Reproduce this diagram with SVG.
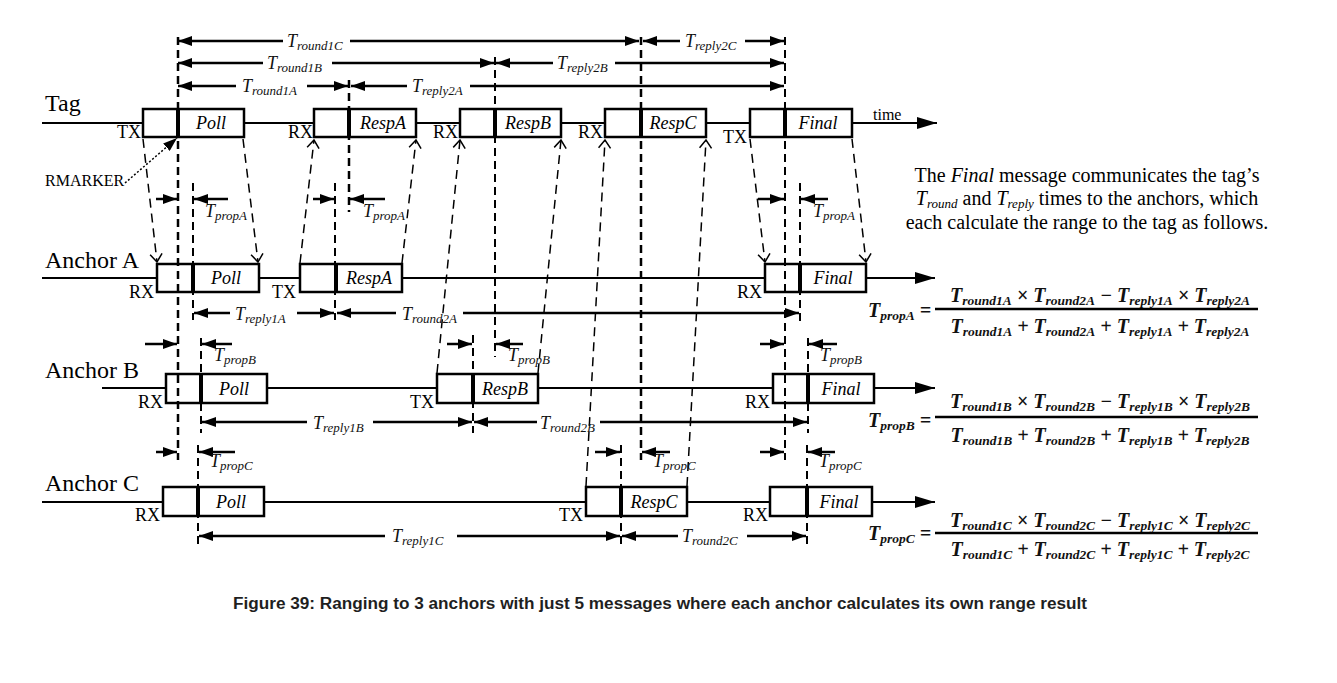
<svg xmlns="http://www.w3.org/2000/svg" width="1337" height="683" viewBox="0 0 1337 683">
<defs>
<style>
.ll{stroke:#000;stroke-width:2;fill:none}
.box{fill:#fff;stroke:#000;stroke-width:2.5}
.dv{stroke:#000;stroke-width:4}
.lbl{font-family:"Liberation Serif",serif;font-size:24px;fill:#000}
.rx{font-family:"Liberation Serif",serif;font-size:18px;text-anchor:end;fill:#000}
.msg{font-family:"Liberation Serif",serif;font-style:italic;font-size:18px;text-anchor:middle;fill:#000}
.vd{stroke:#000;stroke-width:2;stroke-dasharray:8 5;fill:none}
.vdt{stroke:#000;stroke-width:2.5;stroke-dasharray:8 5;fill:none}
.dg{stroke:#000;stroke-width:1.5;stroke-dasharray:9 6;fill:none;marker-end:url(#op)}
.ta{stroke:#000;stroke-width:2.5;fill:none;marker-end:url(#fa)}
.t{font-family:"Liberation Serif",serif;font-style:italic;font-size:18px;fill:#111}
.s{font-size:13px}
.fm{font-family:"Liberation Serif",serif;font-style:italic;font-weight:bold;font-size:20px;fill:#111}
.fs{font-size:13.5px}
.bar{stroke:#000;stroke-width:2.5}
.para{font-family:"Liberation Serif",serif;font-size:20px;text-anchor:middle;fill:#000}
</style>
<marker id="fa" markerUnits="userSpaceOnUse" markerWidth="14" markerHeight="10" refX="14" refY="5" orient="auto"><path d="M0,0 L14,5 L0,10 z" fill="#000"/></marker>
<marker id="op" markerUnits="userSpaceOnUse" markerWidth="12" markerHeight="14" refX="10" refY="7" orient="auto" overflow="visible"><path d="M2,1 L10,7 L2,13" fill="none" stroke="#000" stroke-width="1.5"/></marker>
<marker id="big" markerUnits="userSpaceOnUse" markerWidth="20" markerHeight="12" refX="20" refY="6" orient="auto"><path d="M0,0 L20,6 L0,12 z" fill="#000"/></marker>
</defs>
<rect width="1337" height="683" fill="#fff"/>

<g id="tag">
<line class="ll" x1="42" y1="123" x2="937" y2="123" marker-end="url(#big)"/>
<text class="lbl" x="45" y="111">Tag</text>
<text x="873" y="120" font-family="Liberation Serif, serif" font-size="16">time</text>
<rect class="box" x="143" y="109" width="101" height="28"/><line class="dv" x1="178" y1="109" x2="178" y2="137"/><text class="msg" x="211" y="129">Poll</text>
<rect class="box" x="314" y="109" width="102" height="28"/><line class="dv" x1="349" y1="109" x2="349" y2="137"/><text class="msg" x="383" y="129">RespA</text>
<rect class="box" x="460" y="109" width="101" height="28"/><line class="dv" x1="495" y1="109" x2="495" y2="137"/><text class="msg" x="528" y="129">RespB</text>
<rect class="box" x="605" y="109" width="101" height="28"/><line class="dv" x1="641" y1="109" x2="641" y2="137"/><text class="msg" x="673" y="129">RespC</text>
<rect class="box" x="750" y="109" width="102" height="28"/><line class="dv" x1="785" y1="109" x2="785" y2="137"/><text class="msg" x="818" y="129">Final</text>
<text class="rx" x="141" y="138">TX</text>
<text class="rx" x="313" y="138">RX</text>
<text class="rx" x="458" y="138">RX</text>
<text class="rx" x="603" y="138">RX</text>
<text class="rx" x="747" y="143">TX</text>
<text x="45" y="186" font-family="Liberation Serif, serif" font-size="16">RMARKER</text>
</g>

<g id="anchorA">
<line class="ll" x1="42" y1="278" x2="935" y2="278" marker-end="url(#big)"/>
<text class="lbl" x="45" y="268">Anchor A</text>
<rect class="box" x="157" y="264" width="102" height="28"/><line class="dv" x1="193" y1="264" x2="193" y2="292"/><text class="msg" x="226" y="284">Poll</text>
<rect class="box" x="300" y="264" width="102" height="28"/><line class="dv" x1="336" y1="264" x2="336" y2="292"/><text class="msg" x="369" y="284">RespA</text>
<rect class="box" x="765" y="264" width="101" height="28"/><line class="dv" x1="800" y1="264" x2="800" y2="292"/><text class="msg" x="833" y="284">Final</text>
<text class="rx" x="154" y="298">RX</text>
<text class="rx" x="296" y="298">TX</text>
<text class="rx" x="762" y="298">RX</text>
</g>

<g id="anchorB">
<line class="ll" x1="102" y1="388" x2="935" y2="388" stroke-width="3" marker-end="url(#big)"/>
<text class="lbl" x="45" y="378">Anchor B</text>
<rect class="box" x="166" y="374" width="101" height="29"/><line class="dv" x1="201" y1="374" x2="201" y2="403"/><text class="msg" x="234" y="395">Poll</text>
<rect class="box" x="437" y="374" width="101" height="29"/><line class="dv" x1="473" y1="374" x2="473" y2="403"/><text class="msg" x="505" y="395">RespB</text>
<rect class="box" x="773" y="374" width="101" height="29"/><line class="dv" x1="808" y1="374" x2="808" y2="403"/><text class="msg" x="841" y="395">Final</text>
<text class="rx" x="163" y="408">RX</text>
<text class="rx" x="434" y="408">TX</text>
<text class="rx" x="770" y="408">RX</text>
</g>

<g id="anchorC">
<line class="ll" x1="42" y1="502" x2="935" y2="502" marker-end="url(#big)"/>
<text class="lbl" x="45" y="491">Anchor C</text>
<rect class="box" x="163" y="487" width="101" height="29"/><line class="dv" x1="198" y1="487" x2="198" y2="516"/><text class="msg" x="231" y="508">Poll</text>
<rect class="box" x="586" y="487" width="101" height="29"/><line class="dv" x1="621" y1="487" x2="621" y2="516"/><text class="msg" x="654" y="508">RespC</text>
<rect class="box" x="770" y="487" width="102" height="29"/><line class="dv" x1="807" y1="487" x2="807" y2="516"/><text class="msg" x="839" y="508">Final</text>
<text class="rx" x="160" y="521">RX</text>
<text class="rx" x="583" y="521">TX</text>
<text class="rx" x="768" y="521">RX</text>
</g>

<g id="connectors">
<line class="vdt" x1="178" y1="37" x2="178" y2="460"/>
<line class="vdt" x1="641" y1="37" x2="641" y2="460"/>
<line class="vd" x1="785" y1="37" x2="785" y2="460"/>
<line class="vd" x1="495" y1="57" x2="495" y2="357"/>
<line class="vdt" x1="349" y1="80" x2="349" y2="212"/>
<line class="vd" x1="193" y1="183" x2="193" y2="320"/>
<line class="vd" x1="335" y1="183" x2="335" y2="320"/>
<line class="vd" x1="800" y1="183" x2="800" y2="322"/>
<line class="vd" x1="201" y1="338" x2="201" y2="433"/>
<line class="vd" x1="473" y1="335" x2="473" y2="433"/>
<line class="vd" x1="808" y1="338" x2="808" y2="433"/>
<line class="vd" x1="198" y1="445" x2="198" y2="548"/>
<line class="vd" x1="621" y1="445" x2="621" y2="548"/>
<line class="vd" x1="807" y1="445" x2="807" y2="548"/>

<line class="dg" x1="143" y1="139" x2="157" y2="262"/>
<line class="dg" x1="243" y1="139" x2="258" y2="262"/>
<line class="dg" x1="300" y1="263" x2="314" y2="140"/>
<line class="dg" x1="402" y1="263" x2="416" y2="140"/>
<line class="dg" x1="437" y1="373" x2="460" y2="140"/>
<line class="dg" x1="538" y1="373" x2="561" y2="140"/>
<line class="dg" x1="586" y1="486" x2="605" y2="140"/>
<line class="dg" x1="687" y1="486" x2="706" y2="140"/>
<line class="dg" x1="750" y1="139" x2="765" y2="262"/>
<line class="dg" x1="852" y1="139" x2="866" y2="262"/>

<line x1="125" y1="183" x2="177" y2="138" stroke="#000" stroke-width="1.5" stroke-dasharray="2 2" marker-end="url(#fa)"/>

<line class="ta" x1="283" y1="41" x2="178" y2="41"/>
<line class="ta" x1="350" y1="41" x2="639" y2="41"/>
<text class="t" x="287" y="47">T<tspan class="s" dy="3">round1C</tspan></text>
<line class="ta" x1="680" y1="41" x2="643" y2="41"/>
<line class="ta" x1="745" y1="41" x2="784" y2="41"/>
<text class="t" x="685" y="47">T<tspan class="s" dy="3">reply2C</tspan></text>
<line class="ta" x1="263" y1="63" x2="178" y2="63"/>
<line class="ta" x1="332" y1="63" x2="494" y2="63"/>
<text class="t" x="267" y="69">T<tspan class="s" dy="3">round1B</tspan></text>
<line class="ta" x1="553" y1="63" x2="496" y2="63"/>
<line class="ta" x1="615" y1="63" x2="784" y2="63"/>
<text class="t" x="557" y="69">T<tspan class="s" dy="3">reply2B</tspan></text>
<line class="ta" x1="236" y1="86" x2="178" y2="86"/>
<line class="ta" x1="307" y1="86" x2="348" y2="86"/>
<text class="t" x="242" y="92">T<tspan class="s" dy="3">round1A</tspan></text>
<line class="ta" x1="407" y1="86" x2="351" y2="86"/>
<line class="ta" x1="470" y1="86" x2="784" y2="86"/>
<text class="t" x="412" y="92">T<tspan class="s" dy="3">reply2A</tspan></text>

<line class="ta" x1="156" y1="199" x2="177" y2="199"/>
<line class="ta" x1="228" y1="199" x2="194" y2="199"/>
<text class="t" x="205" y="217">T<tspan class="s" dy="3">propA</tspan></text>
<line class="ta" x1="313" y1="199" x2="334" y2="199"/>
<line class="ta" x1="385" y1="199" x2="350" y2="199"/>
<text class="t" x="363" y="217">T<tspan class="s" dy="3">propA</tspan></text>
<line class="ta" x1="758" y1="199" x2="784" y2="199"/>
<line class="ta" x1="828" y1="199" x2="801" y2="199"/>
<text class="t" x="813" y="217">T<tspan class="s" dy="3">propA</tspan></text>

<line class="ta" x1="145" y1="344" x2="177" y2="344"/>
<line class="ta" x1="232" y1="344" x2="202" y2="344"/>
<text class="t" x="214" y="361">T<tspan class="s" dy="3">propB</tspan></text>
<line class="ta" x1="447" y1="344" x2="472" y2="344"/>
<line class="ta" x1="523" y1="344" x2="496" y2="344"/>
<text class="t" x="508" y="361">T<tspan class="s" dy="3">propB</tspan></text>
<line class="ta" x1="760" y1="344" x2="784" y2="344"/>
<line class="ta" x1="837" y1="344" x2="809" y2="344"/>
<text class="t" x="820" y="361">T<tspan class="s" dy="3">propB</tspan></text>

<line class="ta" x1="156" y1="452" x2="177" y2="452"/>
<line class="ta" x1="235" y1="452" x2="199" y2="452"/>
<text class="t" x="210" y="467">T<tspan class="s" dy="3">propC</tspan></text>
<line class="ta" x1="595" y1="452" x2="620" y2="452"/>
<line class="ta" x1="670" y1="452" x2="642" y2="452"/>
<text class="t" x="653" y="467">T<tspan class="s" dy="3">propC</tspan></text>
<line class="ta" x1="760" y1="452" x2="784" y2="452"/>
<line class="ta" x1="835" y1="452" x2="808" y2="452"/>
<text class="t" x="819" y="467">T<tspan class="s" dy="3">propC</tspan></text>

<line class="ta" x1="230" y1="313" x2="194" y2="313"/>
<line class="ta" x1="297" y1="313" x2="334" y2="313"/>
<text class="t" x="235" y="320">T<tspan class="s" dy="3">reply1A</tspan></text>
<line class="ta" x1="396" y1="313" x2="337" y2="313"/>
<line class="ta" x1="463" y1="313" x2="799" y2="313"/>
<text class="t" x="402" y="320">T<tspan class="s" dy="3">round2A</tspan></text>
<line class="ta" x1="307" y1="422" x2="202" y2="422"/>
<line class="ta" x1="373" y1="422" x2="472" y2="422"/>
<text class="t" x="313" y="429">T<tspan class="s" dy="3">reply1B</tspan></text>
<line class="ta" x1="537" y1="422" x2="474" y2="422"/>
<line class="ta" x1="600" y1="422" x2="807" y2="422"/>
<text class="t" x="540" y="429">T<tspan class="s" dy="3">round2B</tspan></text>
<line class="ta" x1="385" y1="536" x2="199" y2="536"/>
<line class="ta" x1="457" y1="536" x2="620" y2="536"/>
<text class="t" x="392" y="542">T<tspan class="s" dy="3">reply1C</tspan></text>
<line class="ta" x1="678" y1="536" x2="622" y2="536"/>
<line class="ta" x1="747" y1="536" x2="806" y2="536"/>
<text class="t" x="682" y="542">T<tspan class="s" dy="3">round2C</tspan></text>
</g>

<g id="note">
<text class="para" x="1087" y="182">The <tspan font-style="italic">Final</tspan> message communicates the tag’s</text>
<text class="para" x="1087" y="205"><tspan font-style="italic">T</tspan><tspan font-style="italic" font-size="13" dy="3">round</tspan><tspan dy="-3"> and </tspan><tspan font-style="italic">T</tspan><tspan font-style="italic" font-size="13" dy="3">reply</tspan><tspan dy="-3"> times to the anchors, which</tspan></text>
<text class="para" x="1087" y="229">each calculate the range to the tag as follows.</text>
</g>

<g id="formulaA">
<text class="fm" x="868" y="317">T<tspan class="fs" dy="3">propA</tspan><tspan dy="-3"> =</tspan></text>
<text class="fm" x="1100" y="302" text-anchor="middle">T<tspan class="fs" dy="3">round1A</tspan><tspan dy="-3"> × T</tspan><tspan class="fs" dy="3">round2A</tspan><tspan dy="-3"> − T</tspan><tspan class="fs" dy="3">reply1A</tspan><tspan dy="-3"> × T</tspan><tspan class="fs" dy="3">reply2A</tspan></text>
<line class="bar" x1="935" y1="309" x2="1258" y2="309"/>
<text class="fm" x="1100" y="333" text-anchor="middle">T<tspan class="fs" dy="3">round1A</tspan><tspan dy="-3"> + T</tspan><tspan class="fs" dy="3">round2A</tspan><tspan dy="-3"> + T</tspan><tspan class="fs" dy="3">reply1A</tspan><tspan dy="-3"> + T</tspan><tspan class="fs" dy="3">reply2A</tspan></text>
</g>

<g id="formulaB">
<text class="fm" x="868" y="427">T<tspan class="fs" dy="3">propB</tspan><tspan dy="-3"> =</tspan></text>
<text class="fm" x="1100" y="408" text-anchor="middle">T<tspan class="fs" dy="3">round1B</tspan><tspan dy="-3"> × T</tspan><tspan class="fs" dy="3">round2B</tspan><tspan dy="-3"> − T</tspan><tspan class="fs" dy="3">reply1B</tspan><tspan dy="-3"> × T</tspan><tspan class="fs" dy="3">reply2B</tspan></text>
<line class="bar" x1="935" y1="417" x2="1258" y2="417"/>
<text class="fm" x="1100" y="442" text-anchor="middle">T<tspan class="fs" dy="3">round1B</tspan><tspan dy="-3"> + T</tspan><tspan class="fs" dy="3">round2B</tspan><tspan dy="-3"> + T</tspan><tspan class="fs" dy="3">reply1B</tspan><tspan dy="-3"> + T</tspan><tspan class="fs" dy="3">reply2B</tspan></text>
</g>

<g id="formulaC">
<text class="fm" x="868" y="540">T<tspan class="fs" dy="3">propC</tspan><tspan dy="-3"> =</tspan></text>
<text class="fm" x="1100" y="527" text-anchor="middle">T<tspan class="fs" dy="3">round1C</tspan><tspan dy="-3"> × T</tspan><tspan class="fs" dy="3">round2C</tspan><tspan dy="-3"> − T</tspan><tspan class="fs" dy="3">reply1C</tspan><tspan dy="-3"> × T</tspan><tspan class="fs" dy="3">reply2C</tspan></text>
<line class="bar" x1="935" y1="533" x2="1258" y2="533"/>
<text class="fm" x="1100" y="556" text-anchor="middle">T<tspan class="fs" dy="3">round1C</tspan><tspan dy="-3"> + T</tspan><tspan class="fs" dy="3">round2C</tspan><tspan dy="-3"> + T</tspan><tspan class="fs" dy="3">reply1C</tspan><tspan dy="-3"> + T</tspan><tspan class="fs" dy="3">reply2C</tspan></text>
</g>

<text x="233" y="609" font-family="Liberation Sans, sans-serif" font-weight="bold" font-size="16" fill="#1f1f1f" textLength="854" lengthAdjust="spacingAndGlyphs">Figure 39: Ranging to 3 anchors with just 5 messages where each anchor calculates its own range result</text>
</svg>
